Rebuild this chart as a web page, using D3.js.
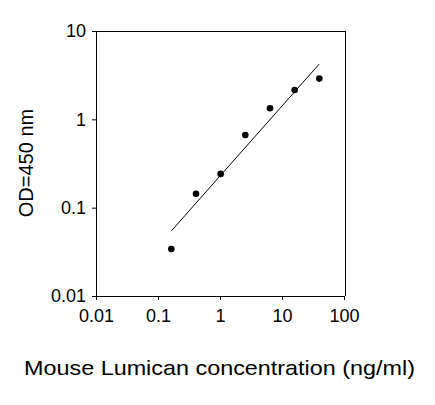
<!DOCTYPE html>
<html>
<head>
<meta charset="utf-8">
<script src="https://cdn.jsdelivr.net/npm/d3@7"></script>
<style>
  body { margin: 0; background: #fff; }
  text { font-family: "Liberation Sans", Arial, sans-serif; fill: #000; }
  .axis path, .axis line { stroke: #000; stroke-width: 1; }
</style>
</head>
<body>
<svg id="chart" width="435" height="405"></svg>
<script>
// standard curve points
const concentration = [0.164, 0.41, 1.024, 2.56, 6.4, 16, 40];
const odValues = [0.034, 0.144, 0.241, 0.666, 1.335, 2.15, 2.89];
// fitted line end points
const fitX = [0.164, 40];
const fitY = [0.0545, 4.24];
const xTicks = [0.01, 0.1, 1, 10, 100];
const yTicks = [0.01, 0.1, 1, 10];

const svg = d3.select("#chart");
const margin = {top: 31, right: 91, bottom: 109, left: 96};
const width = 435 - margin.left - margin.right;
const height = 405 - margin.top - margin.bottom;

const g = svg.append("g").attr("transform", `translate(${margin.left},${margin.top})`);

const xScale = d3.scaleLog().domain([0.01, 100]).range([0, width]);
const yScale = d3.scaleLog().domain([0.01, 10]).range([height, 0]);

// frame top / right
g.append("line").attr("x1", 0).attr("x2", width + 1).attr("y1", 0.5).attr("y2", 0.5)
  .attr("stroke", "#000");
g.append("line").attr("x1", width + 1.5).attr("x2", width + 1.5).attr("y1", 0).attr("y2", height)
  .attr("stroke", "#000");

const xAxis = d3.axisBottom(xScale).tickValues(xTicks).tickSize(4).tickSizeOuter(0)
  .tickFormat(d => String(d));
g.append("g").attr("class", "axis")
  .attr("transform", `translate(0,${height})`)
  .call(xAxis)
  .call(s => s.selectAll("text").attr("font-size", 18).attr("dy", "1.05em"));

const yAxis = d3.axisLeft(yScale).tickValues(yTicks).tickSize(4).tickSizeOuter(0)
  .tickFormat(d => String(d));
g.append("g").attr("class", "axis")
  .call(yAxis)
  .call(s => s.selectAll("text").attr("font-size", 18).attr("x", -10));

// fitted line
const lineGen = d3.line().x(d => xScale(d[0])).y(d => yScale(d[1]));
g.append("path")
  .attr("d", lineGen(fitX.map((x, i) => [x, fitY[i]])))
  .attr("fill", "none")
  .attr("stroke", "#000")
  .attr("stroke-width", 1);

// points
g.selectAll("circle.pt")
  .data(concentration)
  .join("circle")
  .attr("class", "pt")
  .attr("cx", d => xScale(d))
  .attr("cy", (d, i) => yScale(odValues[i]))
  .attr("r", 3.3)
  .attr("fill", "#000");

// titles
svg.append("text")
  .attr("x", 24).attr("y", 375)
  .attr("font-size", 21)
  .attr("textLength", 391)
  .attr("lengthAdjust", "spacingAndGlyphs")
  .text("Mouse Lumican concentration (ng/ml)");

svg.append("text")
  .attr("transform", "translate(33,163) rotate(-90)")
  .attr("text-anchor", "middle")
  .attr("font-size", 20)
  .text("OD=450 nm");
</script>
</body>
</html>
